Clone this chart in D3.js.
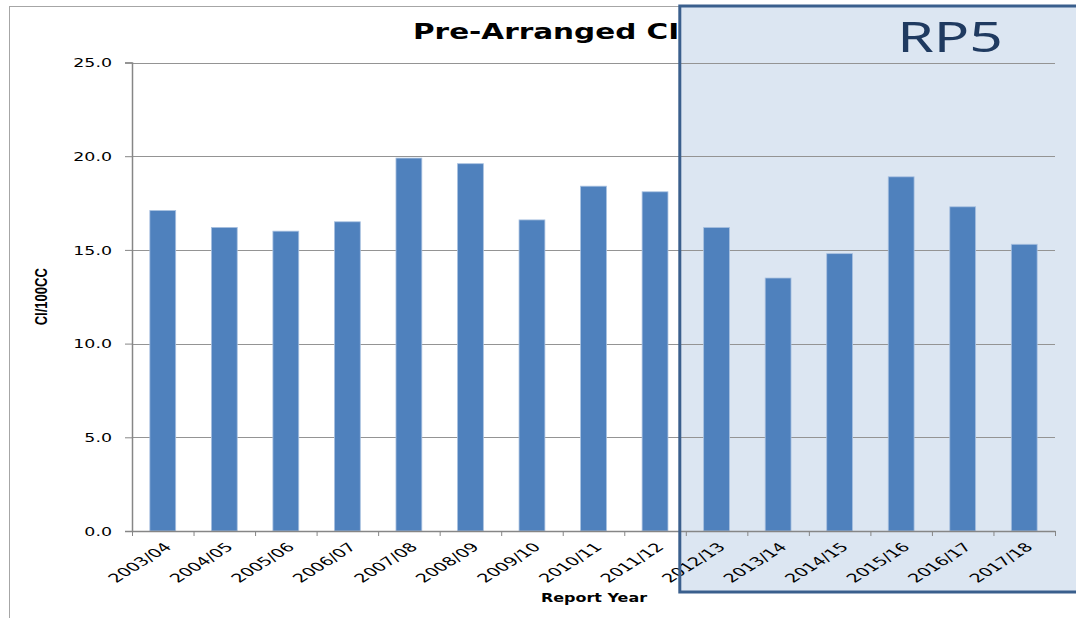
<!DOCTYPE html>
<html>
<head>
<meta charset="utf-8">
<script src="https://cdn.jsdelivr.net/npm/d3@7"></script>
<style>
  html, body { margin: 0; padding: 0; background: #fff; }
  svg { display: block; }
</style>
</head>
<body>
<svg id="chart" width="1076" height="618"></svg>
<script>
// Report years and pre-arranged CI/100CC per year
const categories = ["2003/04", "2004/05", "2005/06", "2006/07", "2007/08", "2008/09", "2009/10",
  "2010/11", "2011/12", "2012/13", "2013/14", "2014/15", "2015/16", "2016/17", "2017/18"];
const values = [17.1, 16.2, 16.0, 16.5, 19.9, 19.6, 16.6, 18.4, 18.1, 16.2, 13.5, 14.8, 18.9, 17.3, 15.3];
const yTicks = [0, 5, 10, 15, 20, 25];
const periodFirst = "2012/13";
const periodLabel = "RP5";

const svg = d3.select("#chart");
const W = 1076, H = 618;
const plot = { left: 132, right: 1055, top: 62.5, bottom: 531 };

const x = d3.scaleBand().domain(categories).range([plot.left, plot.right]).paddingInner(0.58).paddingOuter(0.29);
const xEdges = d3.scaleLinear().domain([0, categories.length]).range([plot.left, plot.right]);
const y = d3.scaleLinear().domain([0, 25]).range([plot.bottom, plot.top]);

// chart frame
svg.append("rect").attr("x", 9.5).attr("y", 6.5).attr("width", W + 20).attr("height", H + 20)
  .attr("fill", "#fff").attr("stroke", "#a6a6a6").attr("stroke-width", 1);

// title (partly hidden behind the regulatory-period panel)
svg.append("text")
  .attr("transform", "translate(413,39) scale(1.34,1)")
  .attr("font-family", "DejaVu Sans").attr("font-weight", "bold").attr("font-size", 22)
  .attr("fill", "#000").text("Pre-Arranged CI/100CC");

// regulatory-period panel fill
const panelX = xEdges(categories.indexOf(periodFirst)) - 6;
svg.append("rect").attr("x", panelX).attr("y", 6).attr("width", W - panelX + 4).attr("height", 586)
  .attr("fill", "#dce6f2");

// gridlines
svg.append("g").selectAll("line").data(yTicks.filter(d => d > 0)).join("line")
  .attr("x1", plot.left).attr("x2", plot.right)
  .attr("y1", d => Math.round(y(d)) + 0.5).attr("y2", d => Math.round(y(d)) + 0.5)
  .attr("stroke", "#949494").attr("stroke-width", 1);

// bars
svg.append("g").selectAll("rect").data(values).join("rect")
  .attr("x", (d, i) => x(categories[i]))
  .attr("y", d => y(d))
  .attr("width", x.bandwidth())
  .attr("height", d => y(0) - y(d))
  .attr("fill", "#4f81bd").attr("stroke", "#a9c1e0").attr("stroke-width", 0.8);

// y axis
const yAxis = svg.append("g").attr("transform", `translate(${plot.left},0)`)
  .call(d3.axisLeft(y).tickValues(yTicks).tickSize(7).tickFormat(d3.format(".1f")));
yAxis.select(".domain").attr("stroke", "#868686").attr("stroke-width", 1.5);
yAxis.selectAll(".tick line").attr("stroke", "#868686");
yAxis.selectAll(".tick text")
  .attr("x", null).attr("dy", "0.35em")
  .attr("transform", "translate(-20,0) scale(1.45,1)")
  .attr("font-family", "DejaVu Sans").attr("font-size", 12).attr("fill", "#000");

// x axis: boundary ticks between categories
const xTickAxis = svg.append("g").attr("transform", `translate(0,${plot.bottom})`)
  .call(d3.axisBottom(xEdges).ticks(categories.length).tickSize(5).tickSizeOuter(0).tickFormat(""));
xTickAxis.select(".domain").attr("stroke", "#868686").attr("stroke-width", 1.5);
xTickAxis.selectAll(".tick line").attr("stroke", "#868686");

// x axis category labels
const xLabelAxis = svg.append("g").attr("transform", `translate(0,${plot.bottom})`)
  .call(d3.axisBottom(x).tickSize(0).tickSizeOuter(0));
xLabelAxis.select(".domain").remove();
xLabelAxis.selectAll(".tick text")
  .attr("y", null).attr("dy", "0.35em")
  .attr("text-anchor", "end")
  .attr("transform", "translate(5,14) scale(1.6,1) rotate(-45)")
  .attr("font-family", "DejaVu Sans").attr("font-size", 12).attr("fill", "#000");

// axis titles
svg.append("text")
  .attr("transform", `translate(47,${(plot.top + plot.bottom) / 2}) scale(1.25,1) rotate(-90)`)
  .attr("text-anchor", "middle")
  .attr("font-family", "Liberation Sans").attr("font-weight", "bold").attr("font-size", 13)
  .attr("fill", "#000").text("CI/100CC");
svg.append("text")
  .attr("transform", "translate(594,602) scale(1.33,1)")
  .attr("text-anchor", "middle")
  .attr("font-family", "DejaVu Sans").attr("font-weight", "bold").attr("font-size", 12)
  .attr("fill", "#000").text("Report Year");

// regulatory-period panel border and label
svg.append("rect").attr("x", panelX).attr("y", 6).attr("width", W - panelX + 4).attr("height", 586)
  .attr("fill", "none").attr("stroke", "#3a5f8d").attr("stroke-width", 3);
svg.append("text")
  .attr("transform", "translate(950,52) scale(1.4,1)")
  .attr("text-anchor", "middle")
  .attr("font-family", "Noto Sans").attr("font-size", 42)
  .attr("fill", "#1f3a60").text(periodLabel);
</script>
</body>
</html>
